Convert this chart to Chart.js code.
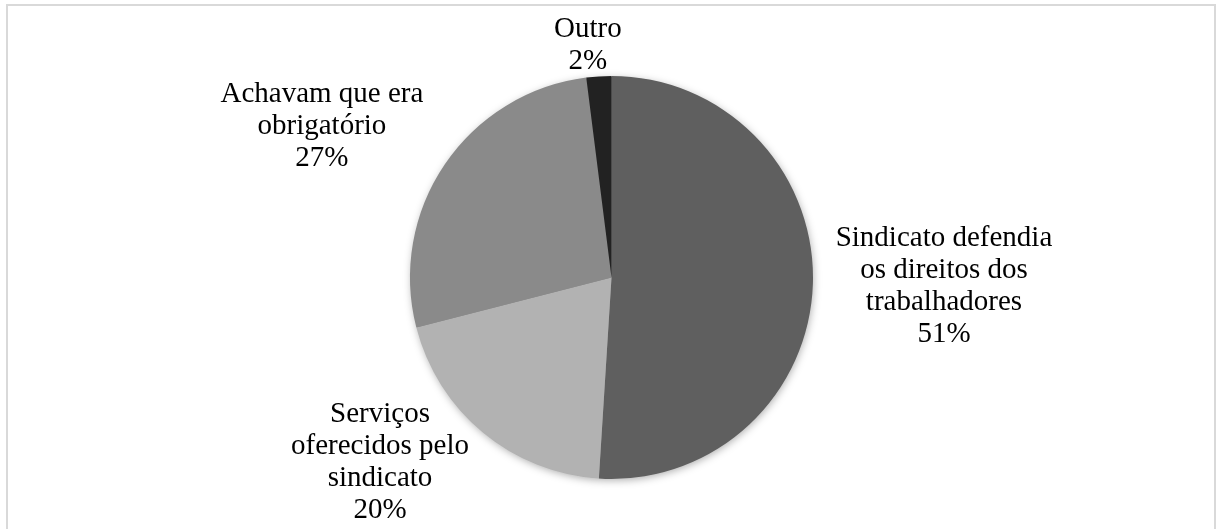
<!DOCTYPE html>
<html>
<head>
<meta charset="utf-8">
<script src="https://cdn.jsdelivr.net/npm/chart.js@4/dist/chart.umd.min.js"></script>
<style>
  body { margin: 0; background: #fff; overflow: hidden; }
  #frame { position: absolute; left: 6px; top: 4px; width: 1206px; height: 540px; border: 2px solid #d9d9d9; }
  #wrap { position: absolute; left: 0; top: 0; width: 1216px; height: 529px; }
</style>
</head>
<body>
<div id="frame"></div>
<div id="wrap"><canvas id="myChart" width="1216" height="529"></canvas></div>
<script>
// motivos da sindicalização
var categorias = [
  ["Sindicato defendia", "os direitos dos", "trabalhadores"],
  ["Serviços", "oferecidos pelo", "sindicato"],
  ["Achavam que era", "obrigatório"],
  ["Outro"]
];
var valores = [51, 20, 27, 2];
var cores = ["#5f5f5f", "#b2b2b2", "#8a8a8a", "#222222"];

// centro de cada rótulo (linha de base do meio), em raios a partir do centro da pizza
var rotuloPos = [[1.650, 0.08], [-1.149, 0.955], [-1.437, -0.712], [-0.117, -1.112]];

var sombra = {
  id: 'sombra',
  beforeDatasetsDraw: function(chart) {
    var arc = chart.getDatasetMeta(0).data[0];
    var ctx = chart.ctx;
    ctx.save();
    ctx.shadowColor = 'rgba(0,0,0,0.35)';
    ctx.shadowBlur = 9;
    ctx.shadowOffsetX = 1;
    ctx.shadowOffsetY = 2;
    ctx.fillStyle = '#888';
    ctx.beginPath();
    ctx.arc(arc.x, arc.y, arc.outerRadius - 1, 0, Math.PI * 2);
    ctx.fill();
    ctx.restore();
  }
};

var rotulos = {
  id: 'rotulos',
  afterDatasetsDraw: function(chart) {
    var ctx = chart.ctx;
    var meta = chart.getDatasetMeta(0);
    ctx.save();
    ctx.font = '29px "Liberation Serif", "Times New Roman", serif';
    ctx.fillStyle = '#000';
    ctx.textAlign = 'center';
    ctx.textBaseline = 'alphabetic';
    meta.data.forEach(function(arc, i) {
      var r = arc.outerRadius;
      var cx = arc.x + rotuloPos[i][0] * r;
      var cy = arc.y + rotuloPos[i][1] * r;
      var linhas = categorias[i].concat([valores[i] + '%']);
      var lh = 32;
      var y0 = cy - (linhas.length - 1) * lh / 2;
      linhas.forEach(function(t, k) {
        ctx.fillText(t, cx, y0 + k * lh);
      });
    });
    ctx.restore();
  }
};

var canvas = document.getElementById('myChart').getContext('2d');

var chart = new Chart(canvas, {
  type: 'pie',
  data: {
    labels: categorias.map(function(c) { return c.join(' '); }),
    datasets: [{
      data: valores,
      backgroundColor: cores,
      borderWidth: 0,
      hoverOffset: 0
    }]
  },
  options: {
    responsive: false,
    animation: false,
    layout: { padding: { top: 76, bottom: 50, left: 410, right: 403 } },
    plugins: {
      legend: { display: false },
      tooltip: { enabled: false }
    }
  },
  plugins: [sombra, rotulos]
});
</script>
</body>
</html>
